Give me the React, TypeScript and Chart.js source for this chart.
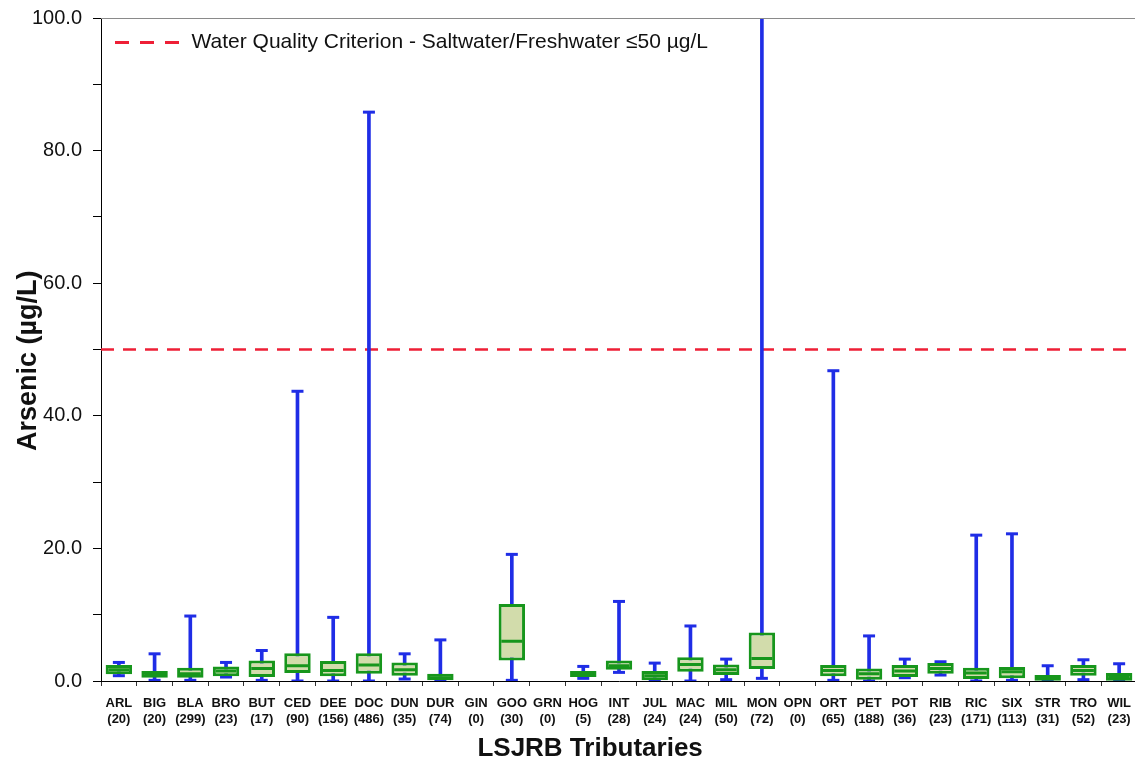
import React, { useEffect, useRef } from "react";
import { Chart, registerables } from "chart.js";

Chart.register(...registerables);

// ---- data ----
const categories = [
  "ARL", "BIG", "BLA", "BRO", "BUT", "CED", "DEE", "DOC", "DUN", "DUR",
  "GIN", "GOO", "GRN", "HOG", "INT", "JUL", "MAC", "MIL", "MON", "OPN",
  "ORT", "PET", "POT", "RIB", "RIC", "SIX", "STR", "TRO", "WIL",
];
const counts = [
  20, 20, 299, 23, 17, 90, 156, 486, 35, 74,
  0, 30, 0, 5, 28, 24, 24, 50, 72, 0,
  65, 188, 36, 23, 171, 113, 31, 52, 23,
];
const whiskerMin = [
  0.8, 0.1, 0.1, 0.6, 0.1, 0.0, 0.0, 0.0, 0.3, 0.0,
  null, 0.1, null, 0.4, 1.3, 0.0, 0.0, 0.2, 0.4, null,
  0.1, 0.0, 0.5, 0.9, 0.0, 0.1, 0.0, 0.2, 0.0,
];
const quartile1 = [
  1.0, 0.5, 0.5, 0.7, 0.6, 1.2, 0.7, 1.1, 0.8, 0.1,
  null, 3.1, null, 0.6, 1.7, 0.1, 1.4, 0.9, 1.8, null,
  0.7, 0.2, 0.6, 1.1, 0.3, 0.4, 0.05, 0.8, 0.05,
];
const medians = [
  1.7, 0.9, 1.1, 1.5, 1.9, 2.3, 1.6, 2.4, 1.7, 0.5,
  null, 6.0, null, 1.0, 2.3, 0.8, 2.5, 1.7, 3.4, null,
  1.6, 1.1, 1.5, 1.9, 1.2, 1.4, 0.4, 1.6, 0.6,
];
const quartile3 = [
  2.4, 1.5, 2.0, 2.2, 3.1, 4.2, 3.0, 4.2, 2.8, 1.1,
  null, 11.6, null, 1.5, 3.1, 1.5, 3.6, 2.5, 7.3, null,
  2.4, 1.9, 2.4, 2.7, 2.0, 2.1, 0.9, 2.4, 1.2,
];
// MON's upper whisker runs off the top of the plot (estimated beyond 100)
const whiskerMax = [
  2.8, 4.1, 9.8, 2.8, 4.6, 43.7, 9.6, 85.8, 4.1, 6.2,
  null, 19.1, null, 2.2, 12.0, 2.7, 8.3, 3.3, 110, null,
  46.8, 6.8, 3.3, 2.9, 22.0, 22.2, 2.3, 3.2, 2.6,
];
const CRITERION = 50;
const criterionLabel = "Water Quality Criterion - Saltwater/Freshwater \u226450 \u00b5g/L";
// trailing no-break spaces nudge the centred titles to where the reference has them
const yAxisTitle = "Arsenic (\u00b5g/L)\u00a0\u00a0\u00a0";
const xAxisTitle = "LSJRB Tributaries\u00a0\u00a0\u00a0\u00a0\u00a0\u00a0\u00a0\u00a0";

const FONT = "'Liberation Sans', Arial, Helvetica, sans-serif";
const BLUE = "#1f2de6";
const GREEN = "#17961c";
const BOX_FILL = "#d2dcab";
const RED = "#ee1f36";
const DASH = [13, 9];
const LEGEND_DASH = [14, 11];

const framePlugin = {
  id: "frameTop",
  afterDraw(chart: any) {
    const { ctx, chartArea } = chart;
    ctx.save();
    ctx.strokeStyle = "#8a8a8a";
    ctx.lineWidth = 1;
    ctx.beginPath();
    ctx.moveTo(chartArea.left, chartArea.top + 0.5);
    ctx.lineTo(chartArea.right, chartArea.top + 0.5);
    ctx.stroke();
    ctx.restore();
  },
};

export default function App() {
  const ref = useRef<HTMLCanvasElement>(null);

  useEffect(() => {
    const canvas = ref.current;
    if (!canvas) return;
    const labels = categories.map((c, i) => [c, `(${counts[i]})`]);
    const chart = new Chart(canvas, {
      type: "bar",
      data: {
        labels,
        datasets: [
          {
            type: "line",
            label: criterionLabel,
            xAxisID: "xLine",
            yAxisID: "y",
            data: [
              { x: 0, y: CRITERION },
              { x: 1, y: CRITERION },
            ],
            borderColor: RED,
            backgroundColor: RED,
            borderWidth: 2.5,
            borderDash: DASH,
            pointRadius: 0,
            pointStyle: "line",
            fill: false,
            order: 10,
          } as any,
          {
            type: "bar",
            label: "whisker",
            xAxisID: "x",
            yAxisID: "y",
            data: categories.map((_, i) =>
              whiskerMin[i] == null ? null : [whiskerMin[i], whiskerMax[i]]
            ),
            backgroundColor: BLUE,
            borderWidth: 0,
            barThickness: 3,
            grouped: false,
            order: 5,
          } as any,
          {
            type: "line",
            label: "capLow",
            xAxisID: "x",
            yAxisID: "y",
            data: whiskerMin,
            showLine: false,
            pointStyle: "line",
            pointRadius: 6,
            pointBorderWidth: 3,
            pointBorderColor: BLUE,
            pointBackgroundColor: BLUE,
            order: 4,
          } as any,
          {
            type: "line",
            label: "capHigh",
            xAxisID: "x",
            yAxisID: "y",
            data: whiskerMax,
            showLine: false,
            pointStyle: "line",
            pointRadius: 6,
            pointBorderWidth: 3,
            pointBorderColor: BLUE,
            pointBackgroundColor: BLUE,
            order: 4,
          } as any,
          {
            type: "bar",
            label: "box",
            xAxisID: "x",
            yAxisID: "y",
            data: categories.map((_, i) =>
              quartile1[i] == null ? null : [quartile1[i], quartile3[i]]
            ),
            backgroundColor: BOX_FILL,
            borderColor: GREEN,
            borderWidth: 3,
            borderSkipped: false,
            barPercentage: 0.74,
            categoryPercentage: 1,
            grouped: false,
            order: 3,
          } as any,
          {
            type: "line",
            label: "median",
            xAxisID: "x",
            yAxisID: "y",
            data: medians,
            showLine: false,
            pointStyle: "line",
            pointRadius: 10.5,
            pointBorderWidth: 3,
            pointBorderColor: GREEN,
            pointBackgroundColor: GREEN,
            order: 1,
          } as any,
        ],
      },
      options: {
        responsive: false,
        animation: false,
        devicePixelRatio: 1,
        events: [],
        font: { family: FONT },
        layout: { autoPadding: false, padding: { left: 0, top: 18, right: 3, bottom: 0 } },
        plugins: {
          tooltip: { enabled: false },
          legend: {
            position: "chartArea" as any,
            align: "start",
            title: {
              display: true,
              text: "",
              font: { family: FONT, size: 10, lineHeight: 1.2 },
              padding: { top: 6, bottom: 0 },
            },
            labels: {
              usePointStyle: true,
              pointStyleWidth: 66,
              padding: 14,
              color: "#111",
              font: { family: FONT, size: 21 },
              filter: (item: any) => item.datasetIndex === 0,
              generateLabels: (ch: any) => {
                const items = (Chart.defaults.plugins.legend.labels as any).generateLabels(ch);
                return items.map((it: any) => ({
                  ...it,
                  lineDash: LEGEND_DASH,
                  lineWidth: 3,
                  strokeStyle: RED,
                  fillStyle: RED,
                  pointStyle: "line",
                }));
              },
            },
          },
        },
        scales: {
          x: {
            type: "category",
            offset: true,
            grid: {
              offset: true,
              drawOnChartArea: false,
              tickLength: 5,
              color: "#333",
            },
            border: { color: "#000", width: 1 },
            ticks: {
              autoSkip: false,
              maxRotation: 0,
              padding: 9,
              color: "#111",
              font: { family: FONT, size: 13, weight: "bold", lineHeight: 1.25 },
            },
            title: {
              display: true,
              text: xAxisTitle,
              color: "#111",
              font: { family: FONT, size: 26, weight: "bold" },
              padding: { top: 0, bottom: 2 },
            },
            afterFit: (s: any) => {
              s.height = 85;
              s.paddingLeft = 0;
              s.paddingRight = 0;
            },
          },
          xLine: {
            type: "linear",
            min: 0,
            max: 1,
            offset: false,
            display: false,
          },
          y: {
            type: "linear",
            min: 0,
            max: 100,
            grid: {
              drawOnChartArea: false,
              tickLength: 8,
              color: "#000",
            },
            border: { color: "#000", width: 1 },
            ticks: {
              stepSize: 10,
              padding: 11,
              color: "#111",
              font: { family: FONT, size: 20 },
              callback: (v: any) => (Number(v) % 20 === 0 ? Number(v).toFixed(1) : ""),
            },
            title: {
              display: true,
              text: yAxisTitle,
              color: "#111",
              font: { family: FONT, size: 27, weight: "bold" },
              padding: { top: 12, bottom: 0 },
            },
            afterFit: (s: any) => {
              s.width = 101;
              s.paddingTop = 0;
              s.paddingBottom = 0;
            },
          },
        },
      } as any,
      plugins: [framePlugin],
    });
    return () => chart.destroy();
  }, []);

  return (
    <div
      style={{
        position: "fixed",
        left: 0,
        top: 0,
        width: 1135,
        height: 766,
        overflow: "hidden",
        background: "#fff",
      }}
    >
      <canvas
        ref={ref}
        width={1140}
        height={766}
        style={{ display: "block", width: 1140, height: 766 }}
      />
    </div>
  );
}
